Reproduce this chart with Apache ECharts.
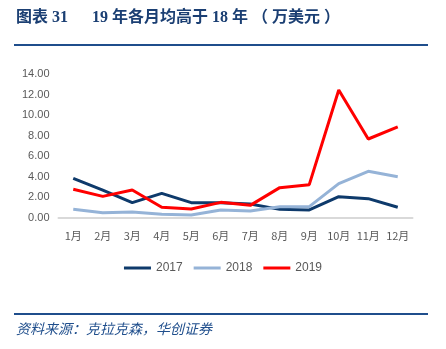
<!DOCTYPE html>
<html><head><meta charset="utf-8">
<script src="https://cdn.jsdelivr.net/npm/echarts@6/dist/echarts.min.js"></script>
<style>html,body{margin:0;padding:0;background:#fff}#c{width:446px;height:349px}</style>
</head><body><div id="c"></div>
<script>
const months = ['1月','2月','3月','4月','5月','6月','7月','8月','9月','10月','11月','12月'];
const s2017 = [3.85, 2.72, 1.49, 2.40, 1.49, 1.49, 1.36, 0.84, 0.78, 2.07, 1.88, 1.04];
const s2018 = [0.84, 0.52, 0.58, 0.36, 0.29, 0.78, 0.68, 1.10, 1.10, 3.34, 4.54, 4.02];
const s2019 = [2.79, 2.10, 2.72, 1.04, 0.87, 1.52, 1.23, 2.95, 3.24, 12.44, 7.68, 8.87];
const seriesNames = ['2017','2018','2019'];
const colors = ['#0E3A6B','#95B3D7','#FF0000'];

const chart = echarts.init(document.getElementById('c'), null, {renderer:'canvas'});
const data = [s2017, s2018, s2019];
chart.setOption({
  animation:false,
  backgroundColor:'#fff',
  grid:{left:58.5, right:33.5, top:74, bottom:131},
  legend:{
    top:257, left:'center', itemWidth:27, itemHeight:3, itemGap:11,
    icon:'rect',
    textStyle:{color:'#595959', fontSize:12, fontFamily:'Liberation Sans, Arial'},
    data:seriesNames
  },
  xAxis:{
    type:'category', data:months, boundaryGap:true,
    axisLine:{lineStyle:{color:'#D9D9D9', width:2}},
    axisTick:{show:false},
    axisLabel:{interval:0, color:'#595959', fontSize:11, margin:12, fontFamily:'Noto Sans CJK SC'}
  },
  yAxis:{
    type:'value', min:0, max:14, interval:2,
    axisLine:{show:false}, axisTick:{show:false}, splitLine:{show:false},
    axisLabel:{color:'#595959', fontSize:11, margin:9, fontFamily:'Liberation Sans, Arial', formatter:v=>v.toFixed(2)}
  },
  series: seriesNames.map((n,i)=>({
    name:n, type:'line', data:data[i], symbol:'none', showSymbol:false,
    lineStyle:{color:colors[i], width:3}, itemStyle:{color:colors[i]}
  })),
  graphic:[
    {type:'text', left:16, top:10, style:{text:'图表 31      19 年各月均高于 18 年 （ 万美元 ）', fill:'#1B3F73', font:'bold 16px "Liberation Serif", "Noto Sans CJK SC"'}},
    {type:'line', shape:{x1:14, y1:45, x2:428, y2:45}, style:{stroke:'#1F4E8C', lineWidth:2}},
    {type:'line', shape:{x1:14, y1:314, x2:428, y2:314}, style:{stroke:'#1F4E8C', lineWidth:2}},
    {type:'text', left:16, top:322, style:{text:'资料来源：克拉克森，华创证券', fill:'#1F4E8C', font:'italic 14px "Noto Sans CJK SC"'}}
  ]
});
</script></body></html>
